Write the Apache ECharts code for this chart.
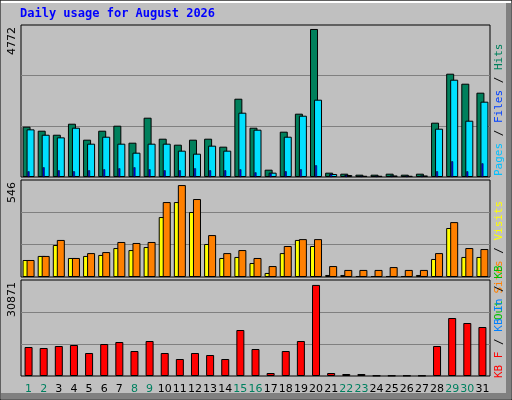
<!DOCTYPE html>
<html><head><meta charset="utf-8">
<script src="https://cdn.jsdelivr.net/npm/echarts@6/dist/echarts.min.js"></script>
<style>html,body{margin:0;padding:0;background:#c0c0c0}#c{width:512px;height:400px}</style>
</head><body><div id="c"></div>
<script>
const days = Array.from({length:31},(_,i)=>String(i+1));
const weekendDays = [1,2,8,9,15,16,22,23,29,30];
const hits  = [1622,1492,1363,1718,1203,1492,1654,1106,1912,1235,1042,1203,1235,978,2524,1589,236,1461,2041,4772,140,107,75,75,107,75,107,1751,3330,3008,2718];
const files = [1536,1363,1278,1589,1074,1299,1074,784,1074,1074,849,752,1010,849,2073,1525,140,1299,1976,2492,97,64,40,40,50,40,50,1557,3137,1815,2428];
const pages = [183,312,215,183,215,247,279,312,247,215,215,279,215,215,247,150,118,183,247,376,97,64,30,30,30,30,30,183,505,183,440];
const visits = [101,125,190,113,125,131,172,160,178,356,445,386,196,113,119,83,24,142,220,184,12,12,6,6,6,6,12,107,291,119,119];
const sites  = [101,125,220,113,142,148,208,202,208,445,546,463,249,142,160,113,65,184,225,225,65,42,42,42,59,42,42,142,326,172,166];
const kbytes = [9831,9492,10170,10509,7797,10848,11526,8475,11865,7797,5763,7797,7119,5763,15594,9153,1017,8475,11865,30871,1017,678,678,150,150,150,150,10170,19662,17967,16611];
const maxLabels = ['4772','546','30871'];

const chart = echarts.init(document.getElementById('c'));
const mono = 'DejaVu Sans Mono';
const grids = [
  {left:21,right:22,top:25,height:152},
  {left:21,right:22,top:180,height:97},
  {left:21,right:22,top:280,height:96}
];
const yMax = [4900,576,32544];
const xAxes = [], yAxes = [];
grids.forEach((g,i)=>{
  xAxes.push({gridIndex:i,type:'category',data:days,axisTick:{show:false},axisLine:{show:false},
    axisLabel:i===2?{show:true,margin:8,fontFamily:'DejaVu Sans',fontSize:11,interval:0,
      formatter:v=>weekendDays.includes(+v)?'{w|'+v+'}':'{d|'+v+'}',
      rich:{w:{color:'#008060',fontSize:11,fontFamily:'DejaVu Sans'},d:{color:'#000',fontSize:11,fontFamily:'DejaVu Sans'}}}:{show:false}});
  yAxes.push({gridIndex:i,type:'value',min:0,max:yMax[i],interval:yMax[i]/3,axisLabel:{show:false},
    axisLine:{show:false},axisTick:{show:false},splitLine:{show:true,showMinLine:false,showMaxLine:false,lineStyle:{color:'#808080',width:1}}});
});
// extra x axis for pages in grid 0
xAxes.push({gridIndex:0,type:'category',data:days,show:false});
const bs = {borderColor:'#000',borderWidth:1};
const opt = {
  backgroundColor:'#c0c0c0',animation:false,
  grid:grids.map(g=>Object.assign({show:true,borderColor:'#000',borderWidth:1,backgroundColor:'#c0c0c0'},g)),
  xAxis:xAxes,yAxis:yAxes,
  series:[
    {type:'bar',xAxisIndex:0,yAxisIndex:0,data:hits,barWidth:8,barGap:'-50%',itemStyle:Object.assign({color:'#00805c'},bs)},
    {type:'bar',xAxisIndex:0,yAxisIndex:0,data:files,barWidth:8,itemStyle:Object.assign({color:'#00e0ff'},bs),z:3},
    {type:'bar',xAxisIndex:3,yAxisIndex:0,data:pages,barWidth:2,barCategoryGap:'0%',itemStyle:{color:'#0000ff',borderColor:'#000',borderWidth:0.5},z:4,
      encode:{}},
    {type:'bar',xAxisIndex:1,yAxisIndex:1,data:visits,barWidth:8,barGap:'-50%',itemStyle:Object.assign({color:'#ffff00'},bs)},
    {type:'bar',xAxisIndex:1,yAxisIndex:1,data:sites,barWidth:8,itemStyle:Object.assign({color:'#ff8000'},bs),z:3},
    {type:'bar',xAxisIndex:2,yAxisIndex:2,data:kbytes,barWidth:8,itemStyle:Object.assign({color:'#ff0000'},bs)}
  ],
  graphic:[
    {type:'rect',shape:{x:0,y:0,width:512,height:400},style:{fill:'none',stroke:'#000',lineWidth:1},z:-1},
    {type:'rect',shape:{x:506,y:1,width:5,height:398},style:{fill:'#808080'},silent:true},
    {type:'rect',shape:{x:1,y:393,width:510,height:6},style:{fill:'#808080'},silent:true},
    {type:'rect',shape:{x:1,y:1,width:510,height:2},style:{fill:'#ffffff'},silent:true},
    {type:'text',x:20,y:8,style:{text:'Daily usage for August 2026',fill:'#0000ff',font:'bold 12px "DejaVu Sans Mono"'}},
    {type:'text',x:12,y:27,rotation:Math.PI/2,style:{text:maxLabels[0],fill:'#000',font:'11px "DejaVu Sans"',align:'right',verticalAlign:'middle'}},
    {type:'text',x:12,y:182,rotation:Math.PI/2,style:{text:maxLabels[1],fill:'#000',font:'11px "DejaVu Sans"',align:'right',verticalAlign:'middle'}},
    {type:'text',x:12,y:282,rotation:Math.PI/2,style:{text:maxLabels[2],fill:'#000',font:'11px "DejaVu Sans"',align:'right',verticalAlign:'middle'}},
    {type:'text',x:499,y:176,rotation:Math.PI/2,style:{text:'{p|Pages}{s| / }{f|Files}{s| / }{h|Hits}',align:'left',verticalAlign:'middle',font:'11px "DejaVu Sans Mono"',
      rich:{p:{fill:'#00c0ff',font:'11px "DejaVu Sans Mono"'},f:{fill:'#0040ff',font:'11px "DejaVu Sans Mono"'},h:{fill:'#00805c',font:'11px "DejaVu Sans Mono"'},s:{fill:'#000',font:'11px "DejaVu Sans Mono"'}}}},
    {type:'text',x:499,y:320,rotation:Math.PI/2,style:{text:'{o|Out} {t|Sites}{s| / }{v|Visits}',align:'left',verticalAlign:'middle',font:'11px "DejaVu Sans Mono"',
      rich:{o:{fill:'#00c000',font:'11px "DejaVu Sans Mono"'},t:{fill:'#ff8000',font:'11px "DejaVu Sans Mono"'},v:{fill:'#ffff00',font:'11px "DejaVu Sans Mono"'},s:{fill:'#000',font:'11px "DejaVu Sans Mono"'}}}},
    {type:'text',x:499,y:378,rotation:Math.PI/2,style:{text:'{r|KB F}{s| / }{b|KB In}{s| / }{g|KB}',align:'left',verticalAlign:'middle',font:'11px "DejaVu Sans Mono"',
      rich:{r:{fill:'#ff0000',font:'11px "DejaVu Sans Mono"'},b:{fill:'#0080ff',font:'11px "DejaVu Sans Mono"'},g:{fill:'#00c000',font:'11px "DejaVu Sans Mono"'},s:{fill:'#000',font:'11px "DejaVu Sans Mono"'}}}}
  ]
};
chart.setOption(opt);
</script></body></html>
